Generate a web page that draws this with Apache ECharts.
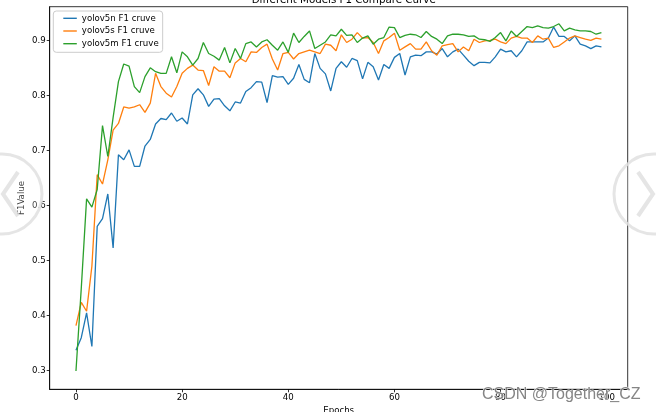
<!DOCTYPE html>
<html>
<head>
<meta charset="utf-8">
<script src="https://cdn.jsdelivr.net/npm/echarts@6/dist/echarts.min.js"></script>
<style>html,body{margin:0;padding:0;background:#fff;}#c{width:656px;height:412px;}</style>
</head>
<body>
<div id="c"></div>
<script>
var epochs = [];
for (var i = 0; i < 100; i++) epochs.push(i);

var yolov5n = [0.337,0.360,0.405,0.344,0.562,0.576,0.621,0.523,0.692,0.683,
0.701,0.671,0.671,0.708,0.720,0.748,0.758,0.756,0.768,0.753,
0.759,0.748,0.801,0.812,0.801,0.780,0.793,0.794,0.781,0.772,
0.788,0.786,0.807,0.814,0.825,0.824,0.787,0.836,0.833,0.834,
0.820,0.831,0.856,0.829,0.823,0.876,0.849,0.839,0.808,0.849,
0.861,0.851,0.867,0.863,0.830,0.860,0.852,0.828,0.856,0.849,
0.869,0.876,0.837,0.870,0.873,0.872,0.879,0.879,0.875,0.885,
0.870,0.879,0.884,0.873,0.862,0.854,0.860,0.860,0.859,0.870,
0.884,0.879,0.881,0.870,0.881,0.897,0.897,0.897,0.897,0.904,
0.924,0.907,0.907,0.899,0.908,0.893,0.890,0.885,0.890,0.888];

var yolov5s = [0.382,0.424,0.408,0.490,0.656,0.639,0.683,0.737,0.749,0.779,
0.777,0.779,0.783,0.769,0.786,0.840,0.816,0.804,0.797,0.816,
0.840,0.849,0.855,0.846,0.845,0.818,0.852,0.844,0.844,0.832,
0.859,0.867,0.861,0.879,0.878,0.887,0.893,0.866,0.846,0.876,
0.878,0.866,0.876,0.879,0.882,0.879,0.876,0.893,0.891,0.881,
0.910,0.896,0.902,0.914,0.904,0.905,0.896,0.876,0.899,0.905,
0.913,0.882,0.888,0.894,0.884,0.884,0.897,0.881,0.873,0.890,
0.892,0.894,0.879,0.888,0.881,0.902,0.896,0.899,0.900,0.902,
0.897,0.894,0.904,0.907,0.904,0.904,0.896,0.908,0.902,0.904,
0.887,0.890,0.897,0.904,0.908,0.905,0.902,0.900,0.904,0.902];

var yolov5m = [0.2995,0.450,0.612,0.597,0.629,0.745,0.689,0.760,0.825,0.857,
0.853,0.816,0.805,0.834,0.850,0.843,0.840,0.840,0.870,0.841,
0.879,0.870,0.855,0.867,0.896,0.876,0.871,0.864,0.887,0.859,
0.885,0.867,0.894,0.897,0.888,0.897,0.901,0.891,0.882,0.897,
0.878,0.913,0.896,0.907,0.917,0.885,0.891,0.897,0.910,0.908,
0.920,0.909,0.910,0.896,0.904,0.908,0.893,0.902,0.905,0.924,
0.923,0.905,0.909,0.911,0.910,0.905,0.916,0.907,0.902,0.894,
0.908,0.911,0.911,0.910,0.907,0.908,0.902,0.901,0.898,0.905,
0.914,0.899,0.917,0.907,0.916,0.925,0.923,0.926,0.923,0.922,
0.925,0.930,0.917,0.922,0.919,0.917,0.917,0.916,0.911,0.914];

var xTicks = [0, 20, 40, 60, 80, 100];
var yTicks = [0.3, 0.4, 0.5, 0.6, 0.7, 0.8, 0.9];
var seriesNames = ['yolov5n F1 cruve', 'yolov5s F1 cruve', 'yolov5m F1 cruve'];
var titleText = 'Different Models F1 Compare Curve';
var xName = 'Epochs';
var yName = 'F1Value';
var watermark = 'CSDN @Together_CZ';

function pairs(arr) { return epochs.map(function (e, i) { return [e, arr[i]]; }); }

var FONT = 'DejaVu Sans';
var colors = ['#1f77b4', '#ff7f0e', '#2ca02c'];
var chart = echarts.init(document.getElementById('c'), null, {renderer: 'canvas'});

var allSeries = [yolov5n, yolov5s, yolov5m].map(function (arr, k) {
  return {
    name: seriesNames[k], type: 'line', data: pairs(arr),
    symbol: 'none', showSymbol: false, animation: false,
    lineStyle: {width: 1.3, color: colors[k]}, itemStyle: {color: colors[k]}
  };
});

chart.setOption({
  animation: false,
  backgroundColor: '#fff',
  title: {
    text: titleText, left: 338.7, top: -10, textAlign: 'center',
    textStyle: {fontFamily: FONT, fontSize: 10.3, fontWeight: 'normal', color: '#000'}
  },
  legend: {
    data: seriesNames, orient: 'vertical', left: 53.3, top: 11,
    icon: 'rect', itemWidth: 13.5, itemHeight: 1.4, itemGap: 2.7,
    padding: [2.3, 4, 3.6, 10],
    backgroundColor: 'rgba(255,255,255,0.8)', borderColor: '#cccccc', borderWidth: 1, borderRadius: 3,
    textStyle: {fontFamily: FONT, fontSize: 8.6, color: '#000', lineHeight: 10}
  },
  grid: {
    left: 49.7, top: 6.7, right: 28.3, bottom: 22.7, containLabel: false,
    outerBoundsMode: 'none',
    show: true, borderColor: '#000', borderWidth: 0.8, backgroundColor: 'transparent'
  },
  xAxis: {
    type: 'value', min: -4.95, max: 103.95,
    name: xName, nameLocation: 'middle', nameGap: 17, nameMoveOverlap: false,
    nameTextStyle: {fontFamily: FONT, fontSize: 8.6, color: '#000'},
    axisLine: {show: true, onZero: false, lineStyle: {color: '#000', width: 0.8}},
    axisTick: {show: true, length: 3, customValues: xTicks, lineStyle: {color: '#000', width: 0.8}},
    axisLabel: {customValues: xTicks, margin: 4, fontFamily: FONT, fontSize: 8.6, color: '#000',
      formatter: function (v) { return String(Math.round(v)); }},
    splitLine: {show: false}
  },
  yAxis: {
    type: 'value', min: 0.2663, max: 0.961,
    name: yName, nameLocation: 'middle', nameGap: 23, nameMoveOverlap: false,
    nameTextStyle: {fontFamily: FONT, fontSize: 8.6, color: '#000'},
    axisLine: {show: true, onZero: false, lineStyle: {color: '#000', width: 0.8}},
    axisTick: {show: true, length: 3, customValues: yTicks, lineStyle: {color: '#000', width: 0.8}},
    axisLabel: {customValues: yTicks, margin: 4, fontFamily: FONT, fontSize: 8.6, color: '#000',
      formatter: function (v) { return v.toFixed(1); }},
    splitLine: {show: false}
  },
  graphic: [
    {type: 'circle', shape: {cx: 2, cy: 194, r: 40}, z: 100,
      style: {fill: 'rgba(255,255,255,0.25)', stroke: 'rgba(225,225,225,0.85)', lineWidth: 3}},
    {type: 'polyline', shape: {points: [[18, 172], [3, 194], [18, 216]]}, z: 100,
      style: {fill: null, stroke: 'rgba(225,225,225,0.85)', lineWidth: 4}},
    {type: 'circle', shape: {cx: 654, cy: 194, r: 40}, z: 100,
      style: {fill: 'rgba(255,255,255,0.25)', stroke: 'rgba(225,225,225,0.85)', lineWidth: 3}},
    {type: 'polyline', shape: {points: [[638, 172], [653, 194], [638, 216]]}, z: 100,
      style: {fill: null, stroke: 'rgba(225,225,225,0.85)', lineWidth: 4}},
    {type: 'text', right: 15, top: 386, z: 101,
      style: {text: watermark, font: '16px "Liberation Sans"', fill: 'rgba(120,120,120,0.9)',
        stroke: 'rgba(255,255,255,0.9)', lineWidth: 1}}
  ],
  series: allSeries
});
</script>
</body>
</html>
